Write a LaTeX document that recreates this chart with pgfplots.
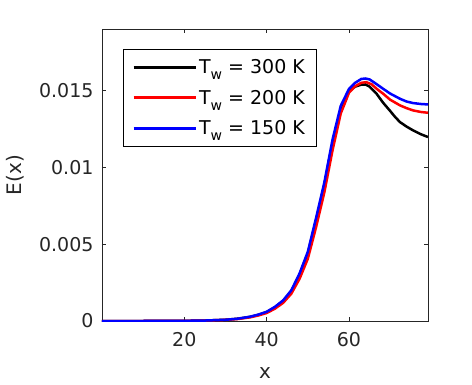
\documentclass[border=0pt]{standalone}
\usepackage{fontspec}
\setmainfont{DejaVu Sans}
\usepackage{pgfplots}
\pgfplotsset{compat=1.18}
\definecolor{axgray}{rgb}{0.15,0.15,0.15}
\newcommand{\sub}[1]{\raisebox{-6pt}{\fontsize{14}{14}\selectfont #1}}

\begin{document}
\begin{tikzpicture}
\path[use as bounding box] (0pt,0pt) rectangle (472pt,384pt);
\begin{axis}[
    at={(102pt,63pt)}, anchor=south west,
    scale only axis,
    width=326pt, height=292pt,
    xmin=0, xmax=79.2,
    ymin=0, ymax=0.019,
    xtick={20,40,60},
    ytick={0,0.005,0.01,0.015},
    yticklabels={0,0.005,0.01,0.015},
    scaled y ticks=false,
    /pgf/number format/assume math mode=true,
    tick align=inside,
    major tick length=4pt,
    axis line style={axgray, line width=0.6pt},
    tick style={axgray, line width=0.6pt},
    every tick label/.append style={font=\fontsize{19}{23}\selectfont, text=axgray},
    xticklabel style={yshift=-8pt},
    yticklabel style={xshift=-5pt},
    xlabel={x}, ylabel={E(x)},
    label style={font=\fontsize{20}{24}\selectfont, text=axgray},
    xlabel style={yshift=-14pt},
    ylabel style={yshift=8pt},
    legend style={at={(0.0644,0.9315)}, anchor=north west,
        draw=black, line width=0.6pt, fill=white,
        font=\fontsize{19}{23}\selectfont, text=black,
        inner xsep=9pt, inner ysep=8pt,
        row sep=11pt},
    legend cell align=left,
    legend image code/.code={\draw[#1, line width=2.8pt] (0pt,0pt) -- (62pt,0pt);},
    every axis plot/.append style={line width=2.5pt},
]
\addplot[black] coordinates {
(0,0) (10,0) (20,0.00001) (25,0.00003) (30,0.00008) (33,0.00015) (36,0.00027)
(38,0.00040) (40,0.00058) (42,0.00089) (44,0.00130) (46,0.00195) (48,0.00300)
(50,0.00440) (52,0.00655) (54,0.00885) (56,0.01160) (58,0.01380) (60,0.01495)
(61.5,0.01525) (63,0.01538) (64,0.01539) (65,0.01525) (66.7,0.01479)
(68.3,0.01420) (69.9,0.01370) (71.2,0.01328) (72.4,0.01294) (74,0.01265)
(75.6,0.01240) (77.5,0.01215) (79.2,0.01197)};
\addlegendentry{T\sub{w} = 300 K}
\addplot[red] coordinates {
(0,0) (10,0) (20,0.00001) (25,0.00003) (30,0.00007) (33,0.00013) (36,0.00024)
(38,0.00036) (40,0.00052) (42,0.00080) (44,0.00118) (46,0.00178) (48,0.00275)
(50,0.00405) (52,0.00610) (54,0.00835) (56,0.01110) (58,0.01350) (60,0.01485)
(61.5,0.01528) (63,0.01550) (64.2,0.01554) (65.5,0.01540) (67,0.01505)
(68.3,0.01479) (70,0.01440) (72.4,0.01403) (74,0.01385) (75.6,0.01370)
(77.5,0.01360) (79.2,0.01355)};
\addlegendentry{T\sub{w} = 200 K}
\addplot[blue] coordinates {
(0,0) (10,0) (20,0.00001) (25,0.00003) (30,0.00008) (33,0.00015) (36,0.00028)
(38,0.00042) (40,0.00060) (42,0.00092) (44,0.00134) (46,0.00200) (48,0.00310)
(50,0.00450) (52,0.00670) (54,0.00900) (56,0.01180) (58,0.01400) (60,0.01510)
(61.5,0.01550) (63,0.01575) (64,0.01578) (65,0.01572) (66.5,0.01545)
(68.3,0.01511) (70,0.01480) (72.4,0.01446) (74,0.01428) (75.6,0.01418)
(77.5,0.01412) (79.2,0.01409)};
\addlegendentry{T\sub{w} = 150 K}
\end{axis}
\end{tikzpicture}
\end{document}
